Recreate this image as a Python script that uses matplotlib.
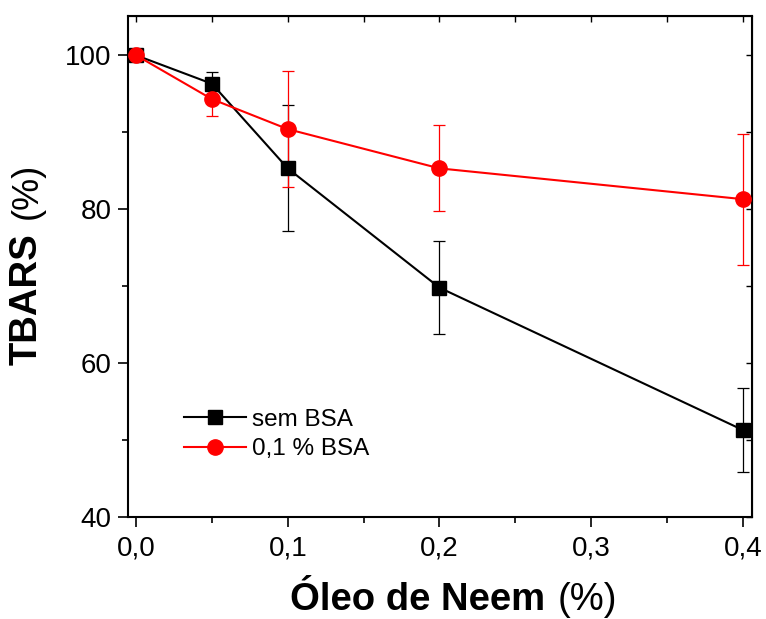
import numpy as np
import matplotlib
matplotlib.use("Agg")
import matplotlib.pyplot as plt
from matplotlib.ticker import MultipleLocator, FuncFormatter

plt.rcParams['font.family'] = ['Liberation Sans', 'DejaVu Sans']

# data
oleo = [0.0, 0.05, 0.1, 0.2, 0.4]
sem_bsa = [100.0, 96.3, 85.3, 69.8, 51.3]
sem_bsa_err = [0.0, 1.5, 8.2, 6.0, 5.4]
com_bsa = [100.0, 94.3, 90.4, 85.3, 81.3]
com_bsa_err = [0.0, 2.2, 7.5, 5.6, 8.5]
labels = ["sem BSA", "0,1 % BSA"]

fig = plt.figure(figsize=(7.66, 6.19), dpi=100)
ax = fig.add_axes([128/766, 1 - 517/619, 624/766, 501/619])

# error bars first, then lines and markers on top
ax.errorbar(oleo, sem_bsa, yerr=sem_bsa_err, fmt='none', ecolor='black',
            elinewidth=0.9, capsize=4, capthick=0.9, zorder=2)
ax.errorbar(oleo, com_bsa, yerr=com_bsa_err, fmt='none', ecolor='red',
            elinewidth=0.9, capsize=4, capthick=0.9, zorder=2)
ax.plot(oleo, sem_bsa, color='black', lw=1.5, marker='s', ms=10,
        label=labels[0], zorder=3)
ax.plot(oleo, com_bsa, color='red', lw=1.5, marker='o', ms=11,
        label=labels[1], zorder=4)

ax.set_xlim(-0.0053, 0.406)
ax.set_ylim(40, 105.1)

ax.xaxis.set_major_locator(MultipleLocator(0.1))
ax.xaxis.set_minor_locator(MultipleLocator(0.05))
ax.yaxis.set_major_locator(MultipleLocator(20))
ax.yaxis.set_minor_locator(MultipleLocator(10))
ax.xaxis.set_major_formatter(FuncFormatter(lambda v, p: ("%.1f" % v).replace('.', ',')))
ax.yaxis.set_major_formatter(FuncFormatter(lambda v, p: "%d" % v))

for s in ax.spines.values():
    s.set_linewidth(1.5)

ax.tick_params(which='both', direction='out', width=1.2, labelsize=20)
ax.tick_params(which='major', length=7, pad=5)
ax.tick_params(which='minor', length=4)
ax.tick_params(axis='x', which='major', pad=6)

# inward ticks on top and right, no labels
axt = ax.secondary_xaxis('top')
axt.xaxis.set_major_locator(MultipleLocator(0.05))
axt.tick_params(direction='in', length=4, width=1.0, labeltop=False)
axr = ax.secondary_yaxis('right')
axr.yaxis.set_major_locator(MultipleLocator(10))
axr.tick_params(direction='in', length=4, width=1.0, labelright=False)

leg = ax.legend(loc='upper left', bbox_to_anchor=(0.09, 0.216), frameon=False,
                fontsize=17.5, handlelength=2.55, handletextpad=0.25,
                labelspacing=0.3, borderpad=0, borderaxespad=0)

# axis labels: bold words, regular "(%)"
renderer = fig.canvas.get_renderer()
xl1 = fig.text(290/766, 1 - 610/619, "Óleo de Neem", fontsize=27.5,
               fontweight='bold', ha='left', va='baseline')
bb = xl1.get_window_extent(renderer)
fig.text((bb.x1 + 12)/766, 1 - 610/619, "(%)", fontsize=27.5,
         ha='left', va='baseline')

yl1 = fig.text(45/766, 1 - 365/619, "TBARS", fontsize=27.5, fontweight='bold',
               rotation=90, ha='right', va='bottom')
bb = yl1.get_window_extent(renderer)
fig.text(45/766, (bb.y1 + 14)/619, "(%)", fontsize=26,
         rotation=90, ha='right', va='bottom')

fig.savefig("out.png", dpi=100)
